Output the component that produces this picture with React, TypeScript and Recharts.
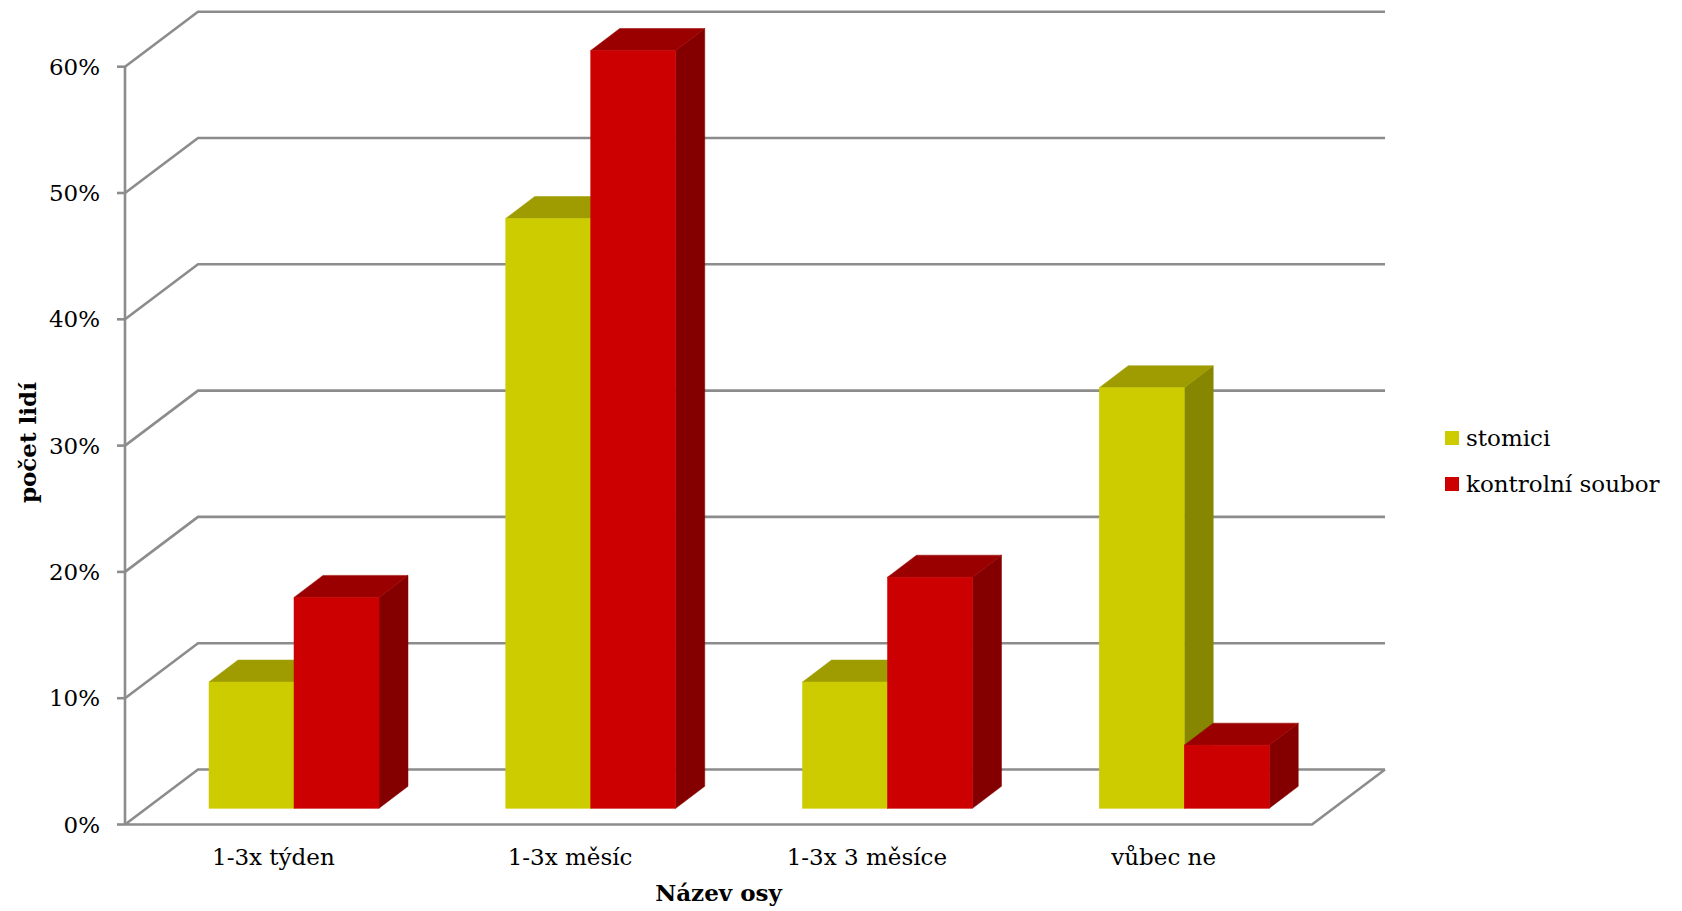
import React from 'react';
import {
  BarChart,
  Bar,
  XAxis,
  YAxis,
  CartesianGrid,
  Legend,
  Label,
} from 'recharts';

// ---- data ----
const CATEGORIES = ['1-3x týden', '1-3x měsíc', '1-3x 3 měsíce', 'vůbec ne'];
const STOMICI = [10, 46.7, 10, 33.3];
const KONTROLNI = [16.7, 60, 18.3, 5];
const Y_TICKS = [0, 10, 20, 30, 40, 50, 60];
const SERIES_NAMES = ['stomici', 'kontrolní soubor'];
const X_TITLE = 'Název osy';
const Y_TITLE = 'počet lidí';

const data = CATEGORIES.map((cat, i) => ({
  cat,
  stomici: STOMICI[i],
  kontrolni: KONTROLNI[i],
}));

// ---- layout / style ----
const W = 1682;
const H = 911;
const Y_AXIS_W = 60;
const MARGIN = { top: 50.5, right: 349, bottom: 0, left: 146 - Y_AXIS_W };
const X_AXIS_H = 102.7;
const PLOT_LEFT = MARGIN.left + Y_AXIS_W;
const PLOT_BOTTOM = H - MARGIN.bottom - X_AXIS_H;

// oblique projection offsets relative to the plane the bars stand in
const FRONT = { dx: -21, dy: 16.2 };
const BACK = { dx: 52, dy: -38.8 };
const BAR_DEPTH = { dx: 29, dy: 22 };

const FONT = '"DejaVu Serif", "Liberation Serif", serif';
const FONT_SIZE = 23;
const GRID = '#8c8c8c';
const GRID_W = 2.6;

const YELLOW = { face: '#cccc00', top: '#9e9c00', side: '#878600' };
const RED = { face: '#cc0000', top: '#9b0000', side: '#840000' };

// ---- 3D box bar ----
const makeBox = (c: { face: string; top: string; side: string }) => (props: any) => {
  const { x, y, width, height } = props;
  if (width == null || height == null) return <g />;
  const dx = BAR_DEPTH.dx;
  const dy = BAR_DEPTH.dy;
  const r = x + width;
  const b = y + height;
  return (
    <g>
      <path
        d={`M${r},${y}L${r + dx},${y - dy}L${r + dx},${b - dy}L${r},${b}Z`}
        fill={c.side}
        stroke={c.side}
        strokeWidth={0.5}
      />
      <path
        d={`M${x},${y}L${x + dx},${y - dy}L${r + dx},${y - dy}L${r},${y}Z`}
        fill={c.top}
        stroke={c.top}
        strokeWidth={0.5}
      />
      <rect x={x} y={y} width={width} height={height} fill={c.face} stroke={c.face} strokeWidth={0.5} />
    </g>
  );
};

const YellowBox = makeBox(YELLOW);
const RedBox = makeBox(RED);

// ---- walls / floor ----
const HorizontalWallLine = (props: any) => {
  const { x1, x2, y1 } = props;
  const fx = x1 + FRONT.dx;
  const fy = y1 + FRONT.dy;
  const bx = x1 + BACK.dx;
  const by = y1 + BACK.dy;
  const ex = x2 + BACK.dx;
  const isFloor = Math.abs(y1 - PLOT_BOTTOM) < 0.5;
  const floor = isFloor
    ? `M${fx},${fy}L${x2 + FRONT.dx},${fy}L${ex},${by}`
    : '';
  return (
    <path
      d={`M${fx},${fy}L${bx},${by}L${ex},${by}${floor}`}
      fill="none"
      stroke={GRID}
      strokeWidth={GRID_W}
      strokeLinejoin="miter"
    />
  );
};

const FrontAxisLine = (props: any) => {
  const { x1, y1, y2 } = props;
  const x = x1 + FRONT.dx;
  return (
    <line
      x1={x}
      y1={y1 + FRONT.dy}
      x2={x}
      y2={y2 + FRONT.dy}
      stroke={GRID}
      strokeWidth={GRID_W}
    />
  );
};

// ---- ticks ----
const YTick = (props: any) => {
  const { y, payload } = props;
  const ax = PLOT_LEFT + FRONT.dx;
  const ty = y + FRONT.dy;
  return (
    <g>
      <line x1={ax - 8} y1={ty} x2={ax} y2={ty} stroke={GRID} strokeWidth={GRID_W} />
      <text
        x={ax - 25}
        y={ty + 8}
        textAnchor="end"
        fontFamily={FONT}
        fontSize={FONT_SIZE}
        fill="#000"
      >
        {`${payload.value}%`}
      </text>
    </g>
  );
};

const XTick = (props: any) => {
  const { x, payload } = props;
  return (
    <text
      x={x + FRONT.dx}
      y={PLOT_BOTTOM + 57}
      textAnchor="middle"
      fontFamily={FONT}
      fontSize={FONT_SIZE}
      fill="#000"
    >
      {payload.value}
    </text>
  );
};

const XTitle = (props: any) => {
  const vb = props.viewBox || {};
  const cx = (vb.x ?? PLOT_LEFT) + (vb.width ?? 0) / 2 + FRONT.dx;
  return (
    <text
      x={cx}
      y={PLOT_BOTTOM + 93}
      textAnchor="middle"
      fontFamily={FONT}
      fontSize={FONT_SIZE}
      fontWeight="bold"
      fill="#000"
    >
      {X_TITLE}
    </text>
  );
};

const YTitle = (props: any) => {
  const vb = props.viewBox || {};
  const cy = (vb.y ?? MARGIN.top) + (vb.height ?? 0) / 2 + FRONT.dy - 3;
  const cx = 28;
  return (
    <text
      x={cx}
      y={cy}
      transform={`rotate(-90, ${cx}, ${cy})`}
      textAnchor="middle"
      dominantBaseline="central"
      fontFamily={FONT}
      fontSize={FONT_SIZE}
      fontWeight="bold"
      fill="#000"
    >
      {Y_TITLE}
    </text>
  );
};

// ---- legend ----
const LegendContent = (props: any) => {
  const items = [...(props.payload || [])].sort(
    (a: any, b: any) => SERIES_NAMES.indexOf(a.value) - SERIES_NAMES.indexOf(b.value)
  );
  return (
    <div style={{ fontFamily: FONT, fontSize: FONT_SIZE, color: '#000' }}>
      {items.map((item: any, i: number) => (
        <div
          key={i}
          style={{ display: 'flex', alignItems: 'center', height: 46, whiteSpace: 'nowrap' }}
        >
          <span
            style={{
              display: 'inline-block',
              width: 14,
              height: 14,
              background: item.color,
              marginRight: 7,
            }}
          />
          <span>{item.value}</span>
        </div>
      ))}
    </div>
  );
};

export default function App() {
  return (
    <div style={{ position: 'absolute', left: 0, top: 0, width: W, height: H, background: '#fff' }}>
      <BarChart
        width={W}
        height={H}
        data={data}
        margin={MARGIN}
        barGap={0}
        barSize={85}
      >
        <CartesianGrid
          horizontal={HorizontalWallLine}
          vertical={FrontAxisLine}
          verticalPoints={[PLOT_LEFT]}
        />
        <XAxis
          dataKey="cat"
          height={X_AXIS_H}
          axisLine={false}
          tickLine={false}
          tick={XTick}
          interval={0}
        >
          <Label content={XTitle} />
        </XAxis>
        <YAxis
          width={Y_AXIS_W}
          domain={[0, 60]}
          ticks={Y_TICKS}
          axisLine={false}
          tickLine={false}
          tick={YTick}
          interval={0}
        >
          <Label content={YTitle} />
        </YAxis>
        <Legend
          layout="horizontal"
          verticalAlign="middle"
          align="center"
          itemSorter={null as any}
          content={LegendContent}
          wrapperStyle={{ position: 'absolute', left: 1445, top: 414.7, width: 237, height: 92 }}
        />
        <Bar
          dataKey="stomici"
          name={SERIES_NAMES[0]}
          fill={YELLOW.face}
          shape={YellowBox}
          isAnimationActive={false}
        />
        <Bar
          dataKey="kontrolni"
          name={SERIES_NAMES[1]}
          fill={RED.face}
          shape={RedBox}
          isAnimationActive={false}
        />
      </BarChart>
    </div>
  );
}
